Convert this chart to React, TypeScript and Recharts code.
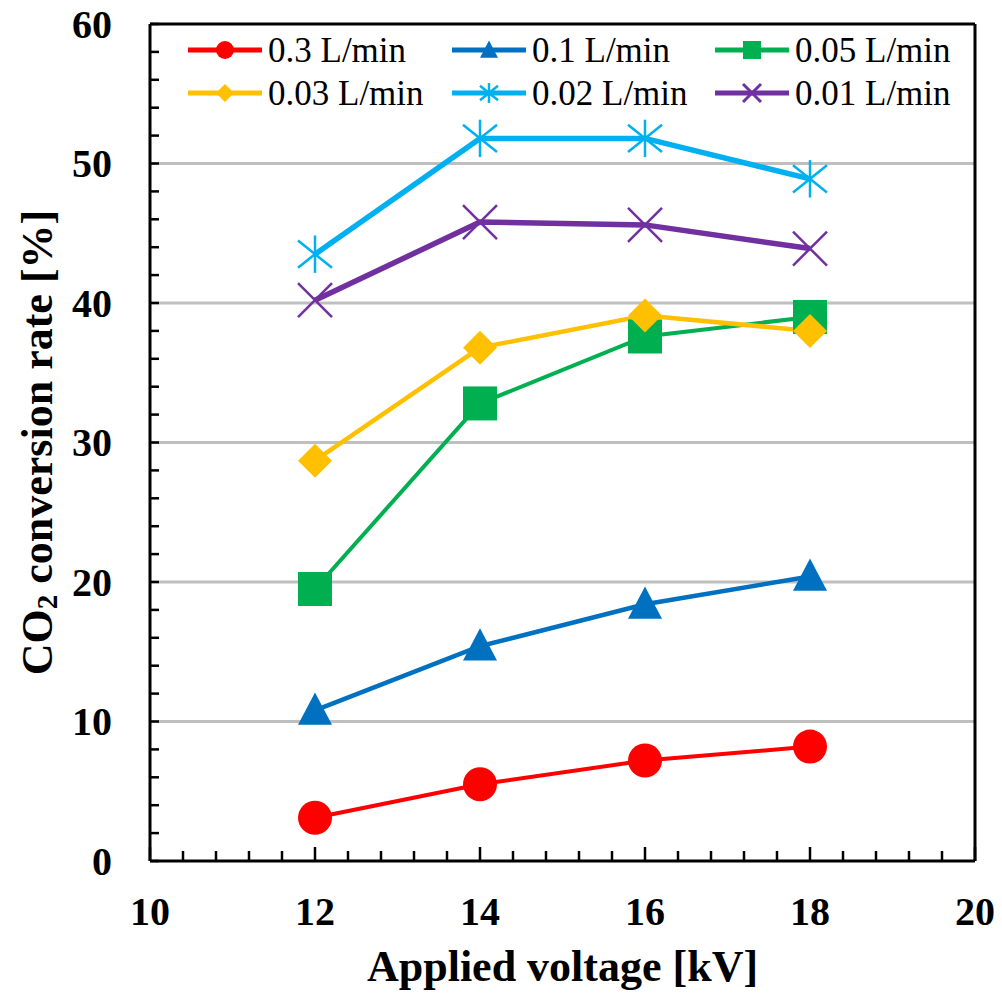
import React from 'react';
import { LineChart, Line, XAxis, YAxis, ReferenceLine } from 'recharts';

const VOLTAGES = [12, 14, 16, 18];
const S_03 = [3.1, 5.5, 7.2, 8.2];
const S_01 = [10.8, 15.4, 18.4, 20.4];
const S_005 = [19.5, 32.8, 37.6, 39.0];
const S_003 = [28.7, 36.8, 39.1, 38.0];
const S_002 = [43.5, 51.8, 51.8, 48.9];
const S_001 = [40.2, 45.8, 45.6, 43.9];

const SERIES_NAMES = ['0.3 L/min', '0.1 L/min', '0.05 L/min', '0.03 L/min', '0.02 L/min', '0.01 L/min'];
const SERIES_KEYS = ['s03', 's01', 's005', 's003', 's002', 's001'];
const SERIES_COLORS = ['#FF0000', '#0070C0', '#00B050', '#FFC000', '#00B0F0', '#7030A0'];
const SERIES_SHAPES = ['circle', 'triangle', 'square', 'diamond', 'star', 'x'];
const SERIES_WIDTHS = [4, 4.5, 4, 4.5, 5.5, 5.5];

const Y_TICKS = [0, 2, 4, 6, 8, 10, 12, 14, 16, 18, 20, 22, 24, 26, 28, 30, 32, 34, 36, 38, 40, 42, 44, 46, 48, 50, 52, 54, 56, 58, 60];
const Y_LABELS = [0, 10, 20, 30, 40, 50, 60];
const X_TICKS = [10, 10.4, 10.8, 11.2, 11.6, 12, 12.4, 12.8, 13.2, 13.6, 14, 14.4, 14.8, 15.2, 15.6, 16, 16.4, 16.8, 17.2, 17.6, 18, 18.4, 18.8, 19.2, 19.6, 20];
const X_LABELS = [10, 12, 14, 16, 18, 20];
const GRID_VALUES = [10, 20, 30, 40, 50];
const X_DOMAIN = [10, 20];
const Y_DOMAIN = [0, 60];

const data = VOLTAGES.map((v, i) => ({
  v,
  s03: S_03[i],
  s01: S_01[i],
  s005: S_005[i],
  s003: S_003[i],
  s002: S_002[i],
  s001: S_001[i],
}));

const FONT = '"Liberation Serif", "Times New Roman", serif';

function Marker({ shape, cx, cy, color, s }: { shape: string; cx: number; cy: number; color: string; s: number }) {
  const h = s / 2;
  switch (shape) {
    case 'circle':
      return <circle cx={cx} cy={cy} r={h} fill={color} />;
    case 'triangle':
      return <polygon points={`${cx},${cy - h * 1.05} ${cx + h},${cy + h * 0.85} ${cx - h},${cy + h * 0.85}`} fill={color} />;
    case 'square':
      return <rect x={cx - h} y={cy - h} width={s} height={s} fill={color} />;
    case 'diamond':
      return <polygon points={`${cx},${cy - h} ${cx + h},${cy} ${cx},${cy + h} ${cx - h},${cy}`} fill={color} />;
    case 'star':
      return (
        <g stroke={color} strokeWidth={2.5}>
          <line x1={cx} y1={cy - h * 1.1} x2={cx} y2={cy + h * 1.1} />
          <line x1={cx - h} y1={cy - h * 0.8} x2={cx + h} y2={cy + h * 0.8} />
          <line x1={cx - h} y1={cy + h * 0.8} x2={cx + h} y2={cy - h * 0.8} />
        </g>
      );
    case 'x':
      return (
        <g stroke={color} strokeWidth={s > 20 ? 2.5 : 3}>
          <line x1={cx - h} y1={cy - h} x2={cx + h} y2={cy + h} />
          <line x1={cx - h} y1={cy + h} x2={cx + h} y2={cy - h} />
        </g>
      );
    default:
      return null;
  }
}

const makeDot = (idx: number) => (props: any) => {
  const { cx, cy, index } = props;
  if (cx == null || cy == null) return <g key={`d-${idx}-${index}`} />;
  return (
    <g key={`d-${idx}-${index}`}>
      <Marker shape={SERIES_SHAPES[idx]} cx={cx} cy={cy} color={SERIES_COLORS[idx]} s={34} />
    </g>
  );
};

const YTick = (props: any) => {
  const { x, y, payload } = props;
  const v = payload.value;
  return (
    <g>
      <line x1={x} y1={y} x2={x + 9} y2={y} stroke="#000" strokeWidth={2.5} />
      {Y_LABELS.includes(v) && (
        <text x={x - 38} y={y} textAnchor="end" dominantBaseline="central" style={{ fontFamily: FONT, fontWeight: 'bold', fontSize: 40 }} fill="#000">
          {v}
        </text>
      )}
    </g>
  );
};

const XTick = (props: any) => {
  const { x, y, payload } = props;
  const v = payload.value;
  const major = X_LABELS.includes(v);
  return (
    <g>
      <line x1={x} y1={y} x2={x} y2={y - (major ? 14 : 10)} stroke="#000" strokeWidth={2.5} />
      {major && (
        <text x={x} y={y + 50} textAnchor="middle" dominantBaseline="central" style={{ fontFamily: FONT, fontWeight: 'bold', fontSize: 40 }} fill="#000">
          {v}
        </text>
      )}
    </g>
  );
};

const LEG_COL_X = [188, 452, 715];
const LEG_ROW_Y = [50, 93];

const LegendOverlay = () => (
  <svg width={1002} height={120} style={{ position: 'absolute', left: 0, top: 0, pointerEvents: 'none' }}>
    {SERIES_NAMES.map((name, i) => {
      const col = i % 3;
      const row = Math.floor(i / 3);
      const x0 = LEG_COL_X[col];
      const y0 = LEG_ROW_Y[row];
      return (
        <g key={name}>
          <line x1={x0} y1={y0} x2={x0 + 74} y2={y0} stroke={SERIES_COLORS[i]} strokeWidth={5} />
          <Marker shape={SERIES_SHAPES[i]} cx={x0 + 37} cy={y0} color={SERIES_COLORS[i]} s={18} />
          <text x={x0 + 80} y={y0} dominantBaseline="central" fontFamily="Liberation Serif" style={{ fontFamily: FONT, fontSize: 35 }} fill="#000">
            {name}
          </text>
        </g>
      );
    })}
  </svg>
);

export default function App() {
  return (
    <div style={{ position: 'absolute', left: 0, top: 0, width: 1002, height: 997, background: '#fff' }}>
      <LineChart width={1002} height={997} data={data} margin={{ top: 24, right: 27, bottom: 0, left: 0 }}>
        <XAxis
          dataKey="v"
          type="number"
          domain={X_DOMAIN}
          ticks={X_TICKS}
          interval={0}
          height={136}
          tickLine={false}
          tickSize={0}
          tickMargin={0}
          axisLine={{ stroke: '#000', strokeWidth: 3 }}
          tick={<XTick />}
          label={{ value: 'Applied voltage [kV]', position: 'insideBottom', offset: 16, style: { fontFamily: FONT, fontWeight: 'bold', fontSize: 44, fill: '#000' } }}
        />
        <YAxis
          type="number"
          domain={Y_DOMAIN}
          ticks={Y_TICKS}
          interval={0}
          width={150}
          tickLine={false}
          tickSize={0}
          tickMargin={0}
          axisLine={{ stroke: '#000', strokeWidth: 3 }}
          tick={<YTick />}
          label={(props: any) => {
            const vb = props.viewBox || {};
            const cy = (vb.y ?? 24) + (vb.height ?? 837) / 2;
            const cx = 37;
            return (
              <text x={cx} y={cy} transform={`rotate(-90 ${cx} ${cy})`} textAnchor="middle" dominantBaseline="central" style={{ fontFamily: FONT, fontWeight: 'bold', fontSize: 44 }} fill="#000">
                CO<tspan fontSize={29} dy={10}>2</tspan>
                <tspan dy={-10}> conversion rate [%]</tspan>
              </text>
            );
          }}
        />
        {GRID_VALUES.map((g) => (
          <ReferenceLine key={g} y={g} stroke="#BFBFBF" strokeWidth={3} />
        ))}
        <ReferenceLine y={Y_DOMAIN[1]} stroke="#000" strokeWidth={3} />
        <ReferenceLine x={X_DOMAIN[1]} stroke="#000" strokeWidth={3} />
        {SERIES_KEYS.map((k, i) => (
          <Line
            key={k}
            type="linear"
            dataKey={k}
            name={SERIES_NAMES[i]}
            stroke={SERIES_COLORS[i]}
            strokeWidth={SERIES_WIDTHS[i]}
            dot={makeDot(i)}
            activeDot={false}
            isAnimationActive={false}
          />
        ))}
      </LineChart>
      <LegendOverlay />
    </div>
  );
}
